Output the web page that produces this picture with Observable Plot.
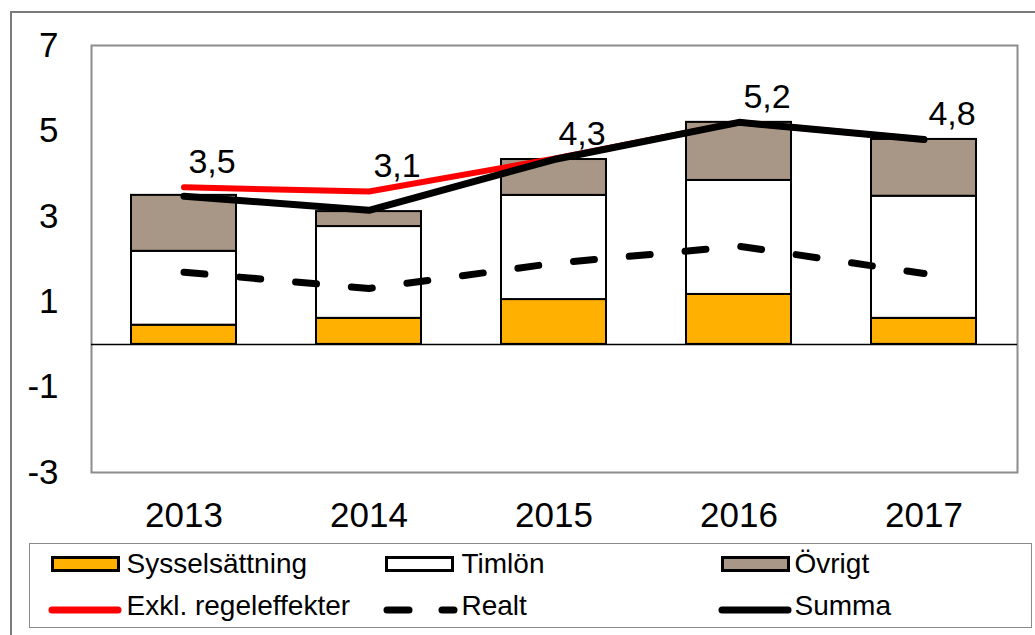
<!DOCTYPE html>
<html><head><meta charset="utf-8">
<script src="https://cdn.jsdelivr.net/npm/d3@7"></script>
<script src="https://cdn.jsdelivr.net/npm/@observablehq/plot@0.6"></script>
<style>
html,body{margin:0;padding:0;background:#fff;overflow:hidden;}
#wrap{position:relative;width:1035px;height:635px;font-family:"Liberation Sans",Arial,sans-serif;color:#000;}
#outer{position:absolute;left:10px;top:11px;width:1100px;height:700px;border-left:2px solid #7a7a7a;border-top:2px solid #7a7a7a;}
#chart{position:absolute;left:0;top:0;}
#legend{position:absolute;left:29px;top:543px;width:1003px;height:85px;border:1.5px solid #8a8a8a;box-sizing:border-box;background:#fff;}
.sw{position:absolute;}
.lt{position:absolute;font-size:28px;line-height:32px;height:32px;white-space:nowrap;}
</style></head>
<body>
<div id="wrap"><div id="outer"></div><div id="chart"></div><div id="legend"></div></div>
<script>
const years = ["2013", "2014", "2015", "2016", "2017"];
const sysselsattning = [0.45, 0.61, 1.05, 1.17, 0.61];
const timlon = [1.73, 2.15, 2.44, 2.67, 2.86];
const ovrigt = [1.31, 0.35, 0.84, 1.36, 1.33];
const exkl = [3.68, 3.58, 4.35, 5.2, 4.8];
const realt = [1.69, 1.31, 1.9, 2.3, 1.66];
const summa = [3.47, 3.14, 4.33, 5.2, 4.8];
const yTicks = [-3, -1, 1, 3, 5, 7];
const barSeries = ["Sysselsättning", "Timlön", "Övrigt"];
const barColors = ["#FFB000", "#FFFFFF", "#A89786"];
const lineSeries = ["Exkl. regeleffekter", "Realt", "Summa"];

const barValues = [sysselsattning, timlon, ovrigt];
const bars = years.flatMap((yr, i) => barSeries.map((s, k) => ({year: yr, serie: s, value: barValues[k][i]})));
const toRows = arr => years.map((yr, i) => ({year: yr, value: arr[i]}));
const fmt = v => d3.format(".1f")(v).replace(".", ",");
const labels = years.map((yr, i) => ({year: yr, value: summa[i], top: Math.max(summa[i], exkl[i])}));

const chart = Plot.plot({
  width: 1035, height: 540,
  marginLeft: 91, marginRight: 18, marginTop: 45, marginBottom: 68,
  style: {fontFamily: "'Liberation Sans', Arial, sans-serif", fontSize: "35px", color: "#000", background: "transparent", overflow: "visible"},
  x: {domain: years, paddingInner: 0.43, paddingOuter: 0.215, label: null, tickSize: 0, tickPadding: 30},
  y: {domain: [-3, 7], ticks: yTicks, label: null, tickSize: 0, tickPadding: 33, tickFormat: d => String(d)},
  color: {domain: barSeries, range: barColors},
  marks: [
    Plot.frame({stroke: "#8c8c8c", strokeWidth: 2}),
    Plot.barY(bars, {x: "year", y: "value", fill: "serie", stroke: "#000", strokeWidth: 2}),
    Plot.ruleY([0], {stroke: "#000", strokeWidth: 1.5}),
    Plot.line(toRows(exkl), {x: "year", y: "value", stroke: "#ff0000", strokeWidth: 6, strokeLinecap: "round", strokeLinejoin: "round"}),
    Plot.line(toRows(realt), {x: "year", y: "value", stroke: "#000", strokeWidth: 7, strokeDasharray: "21,35", strokeLinecap: "round"}),
    Plot.line(toRows(summa), {x: "year", y: "value", stroke: "#000", strokeWidth: 7, strokeLinecap: "round", strokeLinejoin: "round"}),
    Plot.text(labels, {x: "year", y: "top", text: d => fmt(d.value), dx: 28, dy: -25, fontSize: 34, fill: "#000"})
  ]
});
document.getElementById("chart").appendChild(chart);

// Legend
const legend = document.getElementById("legend");
const ox = 30.5, oy = 544.5;
function addSwatch(svgInner, x, cy, w, h) {
  const d = document.createElement("div");
  d.className = "sw";
  d.style.left = (x - ox) + "px";
  d.style.top = (cy - oy - h / 2) + "px";
  d.innerHTML = `<svg width="${w}" height="${h}">${svgInner}</svg>`;
  legend.appendChild(d);
}
function addText(t, x, cy) {
  const d = document.createElement("div");
  d.className = "lt";
  d.style.left = (x - ox) + "px";
  d.style.top = (cy - oy - 16) + "px";
  d.textContent = t;
  legend.appendChild(d);
}
const row1 = 564, row2 = 606;
const barSw = [[51, 127], [385, 462], [721, 795]];
barSeries.forEach((s, k) => {
  const [sx, tx] = barSw[k];
  addSwatch(`<rect x="1.5" y="1.5" width="66" height="13" fill="${barColors[k]}" stroke="#000" stroke-width="3"/>`, sx, row1, 69, 16);
  addText(s, tx, row1);
});
addSwatch(`<line x1="4" y1="5" x2="70" y2="5" stroke="#ff0000" stroke-width="7" stroke-linecap="round"/>`, 48, row2, 74, 10);
addText(lineSeries[0], 127, row2);
addSwatch(`<line x1="4" y1="5" x2="26" y2="5" stroke="#000" stroke-width="7" stroke-linecap="round"/><line x1="59" y1="5" x2="71" y2="5" stroke="#000" stroke-width="7" stroke-linecap="round"/>`, 383, row2, 76, 10);
addText(lineSeries[1], 462, row2);
addSwatch(`<line x1="4" y1="5" x2="70" y2="5" stroke="#000" stroke-width="7" stroke-linecap="round"/>`, 718, row2, 74, 10);
addText(lineSeries[2], 795, row2);
</script>
</body></html>
